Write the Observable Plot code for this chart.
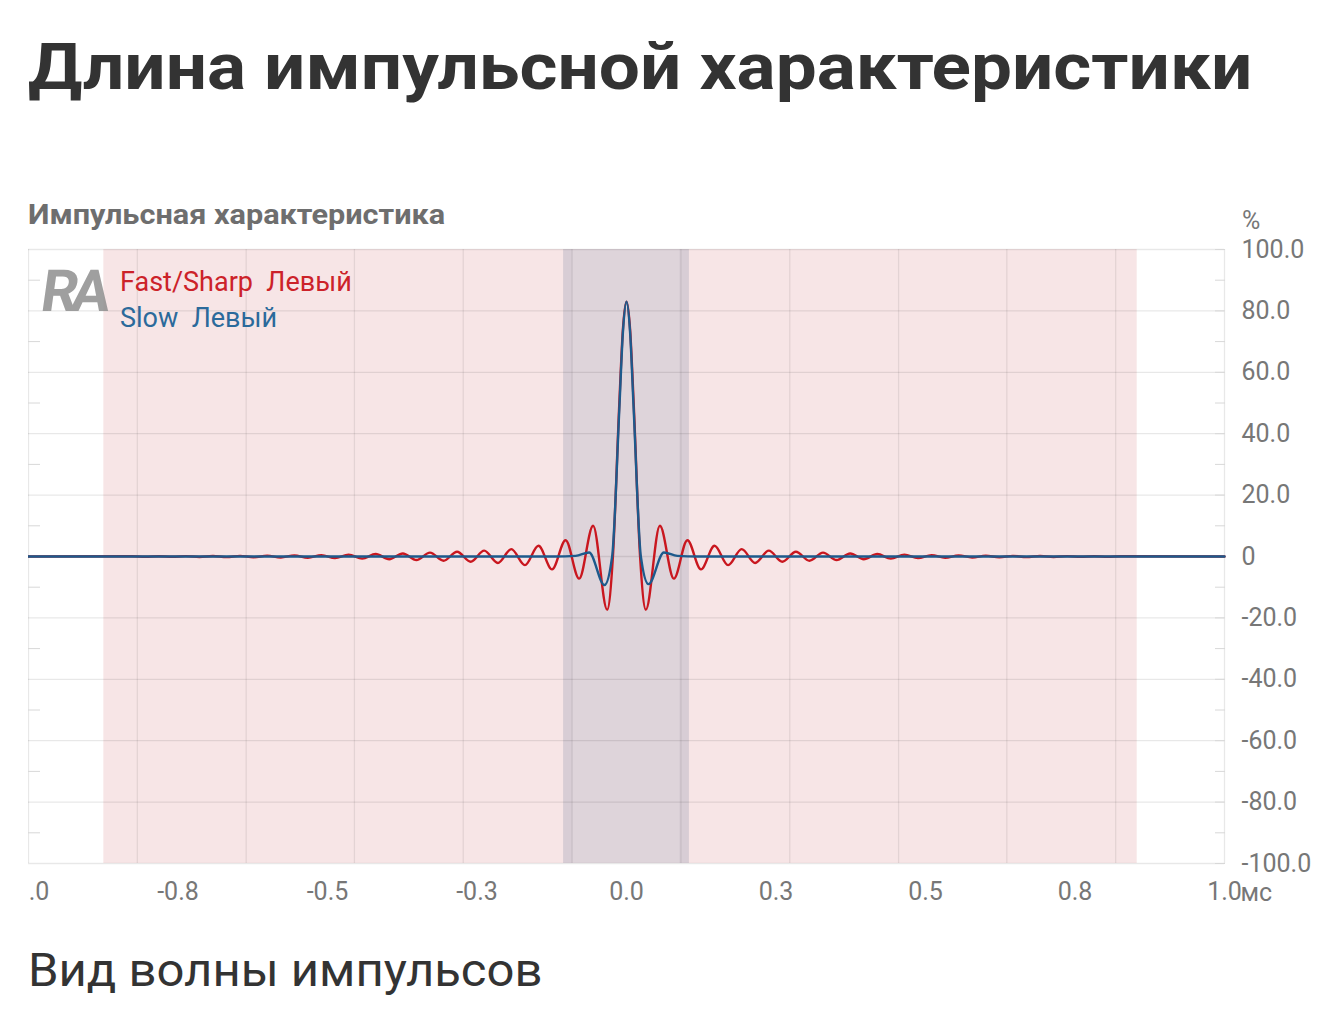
<!DOCTYPE html>
<html>
<head>
<meta charset="utf-8">
<script src="https://cdn.jsdelivr.net/npm/d3@7"></script>
<script src="https://cdn.jsdelivr.net/npm/@observablehq/plot@0.6"></script>
<style>
  html, body { margin: 0; padding: 0; background: #fff; }
  body { width: 1344px; height: 1034px; position: relative; overflow: hidden; font-family: Roboto, "Noto Sans", sans-serif; }
  .abs { position: absolute; white-space: pre; transform-origin: left top; }
  #title { left: 28px; top: 36px; font-size: 64px; line-height: 64px; font-weight: 700; color: #333; transform: scaleX(1.14); }
  #subtitle { left: 28px; top: 201px; font-size: 28px; line-height: 28px; font-weight: 700; color: #6e6e6e; transform: scaleX(1.095); }
  #unit { left: 1242px; top: 208px; font-size: 25px; line-height: 25px; color: #777; }
  #chart { left: 28px; top: 229px; }
  #logo { left: 46px; top: 262px; font-size: 58px; line-height: 58px; font-weight: 700; color: #8f8f8f; letter-spacing: -7px; opacity: 0.85; transform: skewX(-8deg); }
  .leg { font-size: 27px; line-height: 27px; }
  #leg1 { left: 120px; top: 269px; color: #cc2229; }
  #leg2 { left: 120px; top: 305px; color: #2b6a9b; }
  #caption { left: 28px; top: 947px; font-size: 46px; line-height: 46px; color: #333; transform: scaleX(1.065); }
</style>
</head>
<body>
<div id="title" class="abs">Длина импульсной характеристики</div>
<div id="subtitle" class="abs">Импульсная характеристика</div>
<div id="unit" class="abs">%</div>
<div id="chart" class="abs"></div>
<div id="logo" class="abs">RA</div>
<div id="leg1" class="abs leg">Fast/Sharp  Левый</div>
<div id="leg2" class="abs leg">Slow  Левый</div>
<div id="caption" class="abs">Вид волны импульсов</div>
<script>
// ---- axis ticks and labels ----
const xTicks = [-1, -0.75, -0.5, -0.25, 0, 0.25, 0.5, 0.75, 1];
const xTickLabels = ["-1.0", "-0.8", "-0.5", "-0.3", "0.0", "0.3", "0.5", "0.8", "1.0"];
const yTicks = [100, 80, 60, 40, 20, 0, -20, -40, -60, -80, -100];
const yTickLabels = ["100.0", "80.0", "60.0", "40.0", "20.0", "0", "-20.0", "-40.0", "-60.0", "-80.0", "-100.0"];
const yMinorTicks = [90, 70, 50, 30, 10, -10, -30, -50, -70, -90];
const xGrid = [-0.818, -0.636, -0.455, -0.273, -0.091, 0.091, 0.273, 0.455, 0.636, 0.818];
const xUnit = "мс";

// ---- shaded bands (ms) ----
const bandStart = [-0.874, -0.105, -0.105, 0.089];
const bandEnd   = [0.854, 0.105, -0.090, 0.105];
const bandFill  = ["#f7e5e6", "#ded4da", "#d8cdd5", "#d8cdd5"];

// ---- Fast/Sharp Левый (red) ----
const redT = [
  -1,
  -0.8276, -0.8049, -0.7822, -0.7596, -0.7369, -0.7142, -0.6915, -0.6688, -0.6462, -0.6235,
  -0.6008, -0.5781, -0.5554, -0.5328, -0.5101, -0.4874, -0.4647, -0.4420, -0.4194, -0.3967,
  -0.3740, -0.3513, -0.3286, -0.3060, -0.2833, -0.2606, -0.2379, -0.2152, -0.1926, -0.1699,
  -0.1472, -0.1245, -0.1018, -0.0792, -0.0558, -0.0324,
  -0.0227, -0.012, -0.006, 0, 0.006, 0.012, 0.0227,
  0.0324, 0.0558, 0.0792, 0.1018, 0.1245, 0.1472, 0.1699, 0.1926, 0.2152, 0.2379,
  0.2606, 0.2833, 0.3060, 0.3286, 0.3513, 0.3740, 0.3967, 0.4194, 0.4420, 0.4647,
  0.4874, 0.5101, 0.5328, 0.5554, 0.5781, 0.6008, 0.6235, 0.6462, 0.6688, 0.6915,
  0.7142, 0.7369, 0.7596, 0.7822, 0.8049, 0.8276,
  1
];
const redV = [
  0,
  0.06, -0.07, 0.08, -0.1, 0.12, -0.14, 0.16, -0.19, 0.22, -0.25,
  0.28, -0.32, 0.36, -0.41, 0.46, -0.53, 0.6, -0.7, 0.8, -0.9,
  1.0, -1.15, 1.25, -1.4, 1.55, -1.7, 1.9, -2.1, 2.4, -2.8,
  3.5, -4.2, 5.3, -7.2, 10.0, -17.3,
  0, 50, 74, 83, 74, 50, 0,
  -17.3, 10.0, -7.2, 5.3, -4.2, 3.5, -2.8, 2.4, -2.1, 1.9,
  -1.7, 1.55, -1.4, 1.25, -1.15, 1.0, -0.9, 0.8, -0.7, 0.6,
  -0.53, 0.46, -0.41, 0.36, -0.32, 0.28, -0.25, 0.22, -0.19, 0.16,
  -0.14, 0.12, -0.1, 0.08, -0.07, 0.06,
  0
];

// ---- Slow Левый (blue) ----
const blueT = [-1, -0.12, -0.085, -0.0625, -0.0368, -0.024, -0.012, -0.006, 0, 0.006, 0.012, 0.024, 0.0368, 0.0625, 0.085, 0.12, 1];
const blueV = [0, 0, 0.2, 1.3, -9.3, 0, 48, 73, 83, 73, 48, 0, -9.0, 1.3, 0.2, 0, 0];

const bands = bandStart.map((s, i) => ({s, e: bandEnd[i], fill: bandFill[i]}));
const red = redT.map((t, i) => ({t, v: redV[i]}));
const blue = blueT.map((t, i) => ({t, v: blueV[i]}));
const xLab = new Map(xTicks.map((d, i) => [d, xTickLabels[i]]));
const yLab = new Map(yTicks.map((d, i) => [d, yTickLabels[i]]));
const yAllTicks = yTicks.concat(yMinorTicks);

const chart = Plot.plot({
  width: 1316,
  height: 684,
  marginLeft: 0,
  marginRight: 120,
  marginTop: 20,
  marginBottom: 50,
  x: {domain: [-1, 1], label: null},
  y: {domain: [-100, 100], label: null},
  style: {fontFamily: "Roboto", fontSize: "25px", color: "#777", background: "transparent"},
  marks: [
    Plot.rect(bands, {x1: "s", x2: "e", y1: -100, y2: 100, fill: "fill"}),
    Plot.ruleY(yTicks, {stroke: "#000", strokeOpacity: 0.09, strokeWidth: 1.3}),
    Plot.ruleX(xGrid, {stroke: "#000", strokeOpacity: 0.08, strokeWidth: 1.3}),
    Plot.ruleX([-1, 1], {stroke: "#000", strokeOpacity: 0.09, strokeWidth: 1.3}),
    Plot.axisY(yAllTicks, {anchor: "right", tickSize: 10, dx: -10, tickFormat: () => "", stroke: "#d8d8d8"}),
    Plot.axisY(yMinorTicks, {anchor: "left", tickSize: 12, dx: 12, tickFormat: () => "", stroke: "#d8d8d8"}),
    Plot.line(red, {x: "t", y: "v", stroke: "#c9171f", strokeWidth: 2.4, curve: "monotone-x"}),
    Plot.line(blue, {x: "t", y: "v", stroke: "#1d5a8c", strokeWidth: 2.4, curve: "monotone-x"}),
    Plot.axisY(yTicks, {anchor: "right", tickSize: 0, tickPadding: 17, tickFormat: d => yLab.get(d), textAnchor: "start"}),
    Plot.axisX(xTicks, {anchor: "bottom", tickSize: 0, tickPadding: 19, tickFormat: d => xLab.get(d)}),
    Plot.text([xUnit], {x: () => 1, frameAnchor: "bottom", lineAnchor: "middle", dy: 29, dx: 16, textAnchor: "start", text: d => d, fill: "#777"})
  ]
});
document.getElementById("chart").appendChild(chart);
</script>
</body>
</html>
